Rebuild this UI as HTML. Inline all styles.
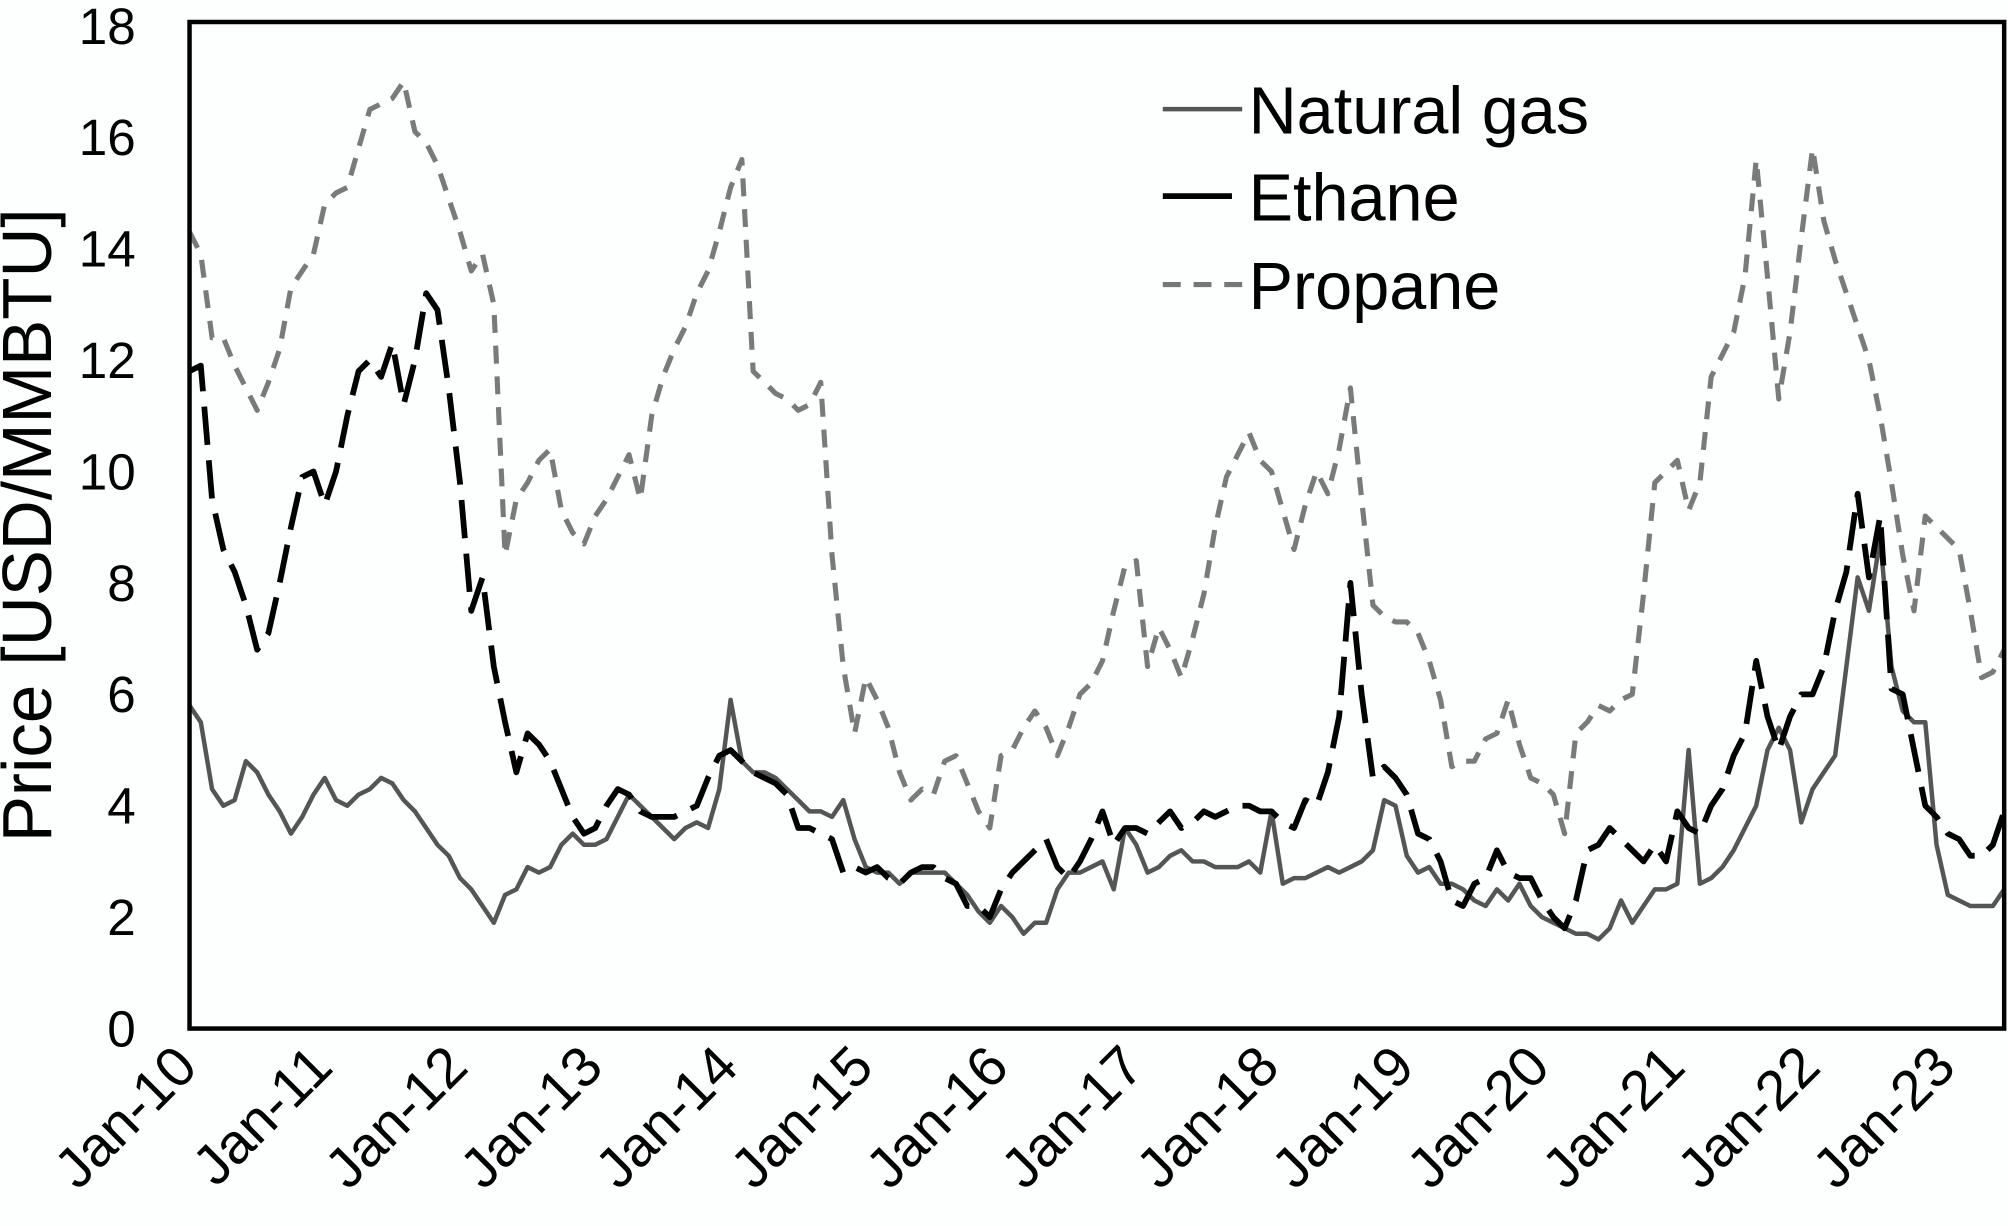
<!DOCTYPE html>
<html><head><meta charset="utf-8"><style>
html,body{margin:0;padding:0;background:#fff;}
svg{display:block;}
text{font-family:"Liberation Sans",Arial,sans-serif;}
</style></head><body>
<svg id="chart" width="2008" height="1226" viewBox="0 0 1568 957" xmlns="http://www.w3.org/2000/svg">
<rect x="0" y="0" width="1568" height="957" fill="#fdfefe"/>
<g id="series"></g>
<g id="axes"></g>
<rect x="148" y="17" width="1417" height="786" fill="none" stroke="#000" stroke-width="3.5"/>
<text x="0" y="0" transform="translate(40,410) rotate(-90)" text-anchor="middle" font-size="54" fill="#000">Price [USD/MMBTU]</text>
<g>
<line x1="908" y1="85" x2="970" y2="85" stroke="#555" stroke-width="3.5"/>
<text x="975" y="104" font-size="52" fill="#000">Natural gas</text>
<line x1="908" y1="153" x2="962" y2="153" stroke="#000" stroke-width="4.5"/>
<text x="975" y="172" font-size="52" fill="#000">Ethane</text>
<line x1="908" y1="222" x2="970" y2="222" stroke="#777" stroke-width="4" stroke-dasharray="14,10"/>
<text x="975" y="241" font-size="52" fill="#000">Propane</text>
</g>
</svg>
<script>
const yTicks = [0,2,4,6,8,10,12,14,16,18];
const xTickLabels = ["Jan-10","Jan-11","Jan-12","Jan-13","Jan-14","Jan-15","Jan-16","Jan-17","Jan-18","Jan-19","Jan-20","Jan-21","Jan-22","Jan-23"];
const naturalGas = [
5.8,5.5,4.3,4.0,4.1,4.8,4.6,4.2,3.9,3.5,3.8,4.2,
4.5,4.1,4.0,4.2,4.3,4.5,4.4,4.1,3.9,3.6,3.3,3.1,
2.7,2.5,2.2,1.9,2.4,2.5,2.9,2.8,2.9,3.3,3.5,3.3,
3.3,3.4,3.8,4.2,4.0,3.8,3.6,3.4,3.6,3.7,3.6,4.3,
5.9,4.8,4.6,4.6,4.5,4.3,4.1,3.9,3.9,3.8,4.1,3.4,
2.9,2.8,2.8,2.6,2.8,2.8,2.8,2.8,2.6,2.4,2.1,1.9,
2.2,2.0,1.7,1.9,1.9,2.5,2.8,2.8,2.9,3.0,2.5,3.6,
3.3,2.8,2.9,3.1,3.2,3.0,3.0,2.9,2.9,2.9,3.0,2.8,
3.9,2.6,2.7,2.7,2.8,2.9,2.8,2.9,3.0,3.2,4.1,4.0,
3.1,2.8,2.9,2.6,2.6,2.5,2.3,2.2,2.5,2.3,2.6,2.2,
2.0,1.9,1.8,1.7,1.7,1.6,1.8,2.3,1.9,2.2,2.5,2.5,
2.6,5.0,2.6,2.7,2.9,3.2,3.6,4.0,5.0,5.4,5.0,3.7,
4.3,4.6,4.9,6.5,8.1,7.5,8.8,6.5,5.7,5.5,5.5,3.3,
2.4,2.3,2.2,2.2,2.2,2.5];
const ethane = [
11.8,11.9,9.5,8.6,8.2,7.6,6.8,7.1,8.0,9.0,9.9,10.0,
9.4,10.0,11.0,11.8,12.0,11.7,12.3,11.2,12.0,13.2,12.9,11.5,
9.8,7.5,8.1,6.5,5.5,4.6,5.3,5.1,4.8,4.3,3.8,3.5,
3.6,4.0,4.3,4.2,3.9,3.8,3.8,3.8,3.9,4.0,4.5,4.9,
5.0,4.8,4.6,4.5,4.4,4.2,3.6,3.6,3.5,3.4,2.8,2.9,
2.8,2.9,2.7,2.6,2.8,2.9,2.9,2.7,2.6,2.2,2.2,2.0,
2.5,2.8,3.0,3.2,3.4,2.9,2.7,3.0,3.4,3.9,3.3,3.6,
3.6,3.5,3.7,3.9,3.6,3.7,3.9,3.8,3.9,4.0,4.0,3.9,
3.9,3.7,3.6,4.1,4.0,4.6,5.6,8.0,6.0,4.5,4.7,4.5,
4.2,3.5,3.4,3.0,2.3,2.2,2.6,2.7,3.2,2.8,2.7,2.7,
2.3,2.0,1.8,2.3,3.2,3.3,3.6,3.4,3.2,3.0,3.3,3.0,
3.9,3.6,3.5,4.0,4.3,4.9,5.3,6.6,5.6,5.0,5.6,6.0,
6.0,6.5,7.5,8.2,9.6,8.1,9.2,6.1,6.0,5.0,4.0,3.8,
3.5,3.4,3.1,3.1,3.3,3.9];
const propane = [
14.3,13.9,12.4,12.4,11.9,11.5,11.1,11.6,12.2,13.3,13.6,13.9,
14.8,15.0,15.1,15.8,16.5,16.6,16.7,17.0,16.1,15.9,15.5,14.9,
14.3,13.6,13.9,13.0,8.5,9.5,9.8,10.2,10.4,9.3,8.9,8.7,
9.2,9.5,9.9,10.3,9.5,11.0,11.7,12.2,12.6,13.2,13.6,14.3,
15.1,15.6,11.8,11.6,11.4,11.3,11.1,11.2,11.6,8.5,6.5,5.3,
6.3,5.9,5.4,4.6,4.1,4.3,4.2,4.8,4.9,4.4,3.9,3.6,
4.9,5.0,5.4,5.7,5.4,4.9,5.4,6.0,6.2,6.6,7.5,8.3,
8.4,6.5,7.2,6.8,6.3,7.0,7.8,9.0,9.9,10.3,10.7,10.2,
10.0,9.3,8.6,9.4,10.0,9.6,10.4,11.5,9.5,7.6,7.4,7.3,
7.3,7.1,6.6,5.9,4.7,4.8,4.8,5.2,5.3,5.9,5.1,4.5,
4.4,4.2,3.5,5.3,5.5,5.8,5.7,5.9,6.0,7.8,9.8,10.0,
10.2,9.3,9.8,11.7,12.1,12.5,13.5,15.6,13.5,11.3,12.5,14.2,
15.8,14.5,13.8,13.2,12.6,12.0,11.0,9.8,8.5,7.5,9.2,9.0,
8.8,8.6,7.5,6.3,6.4,6.8];

const NS = "http://www.w3.org/2000/svg";
const X0 = 148, X1 = 1565, Y0 = 803, YTOP = 20;
function xScale(i){ return X0 + i * (X1 - X0) / 161; }
function yScale(v){ return Y0 - v * (Y0 - YTOP) / 18; }

const axes = document.getElementById('axes');
yTicks.forEach(function(t){
  const tx = document.createElementNS(NS,'text');
  tx.setAttribute('x', 106);
  tx.setAttribute('y', yScale(t) + 14);
  tx.setAttribute('text-anchor','end');
  tx.setAttribute('font-size','40');
  tx.textContent = t;
  
  
  axes.appendChild(tx);
});
xTickLabels.forEach(function(l, k){
  const x = xScale(k * 12);
  const tx = document.createElementNS(NS,'text');
  tx.setAttribute('transform','translate(' + (x + 8) + ',835) rotate(-45)');
  tx.setAttribute('text-anchor','end');
  tx.setAttribute('font-size','44');
  tx.textContent = l;
  
  
  axes.appendChild(tx);
});

const g = document.getElementById('series');
function drawLine(data, stroke, width, dash, name){
  const p = document.createElementNS(NS,'path');
  let d = '';
  data.forEach(function(v,i){ d += (i ? 'L' : 'M') + xScale(i).toFixed(1) + ',' + yScale(v).toFixed(1); });
  p.setAttribute('d', d);
  p.setAttribute('fill','none');
  p.setAttribute('stroke', stroke);
  p.setAttribute('stroke-width', width);
  p.setAttribute('stroke-linejoin','round');
  if (dash) p.setAttribute('stroke-dasharray', dash);
  
  
  g.appendChild(p);
}
drawLine(propane, '#7a7a7a', 4, '14,10', 'propane-line');
drawLine(naturalGas, '#555', 3.5, null, 'natural-gas-line');
drawLine(ethane, '#000', 4.5, '30,12', 'ethane-line');
</script>
</body></html>
